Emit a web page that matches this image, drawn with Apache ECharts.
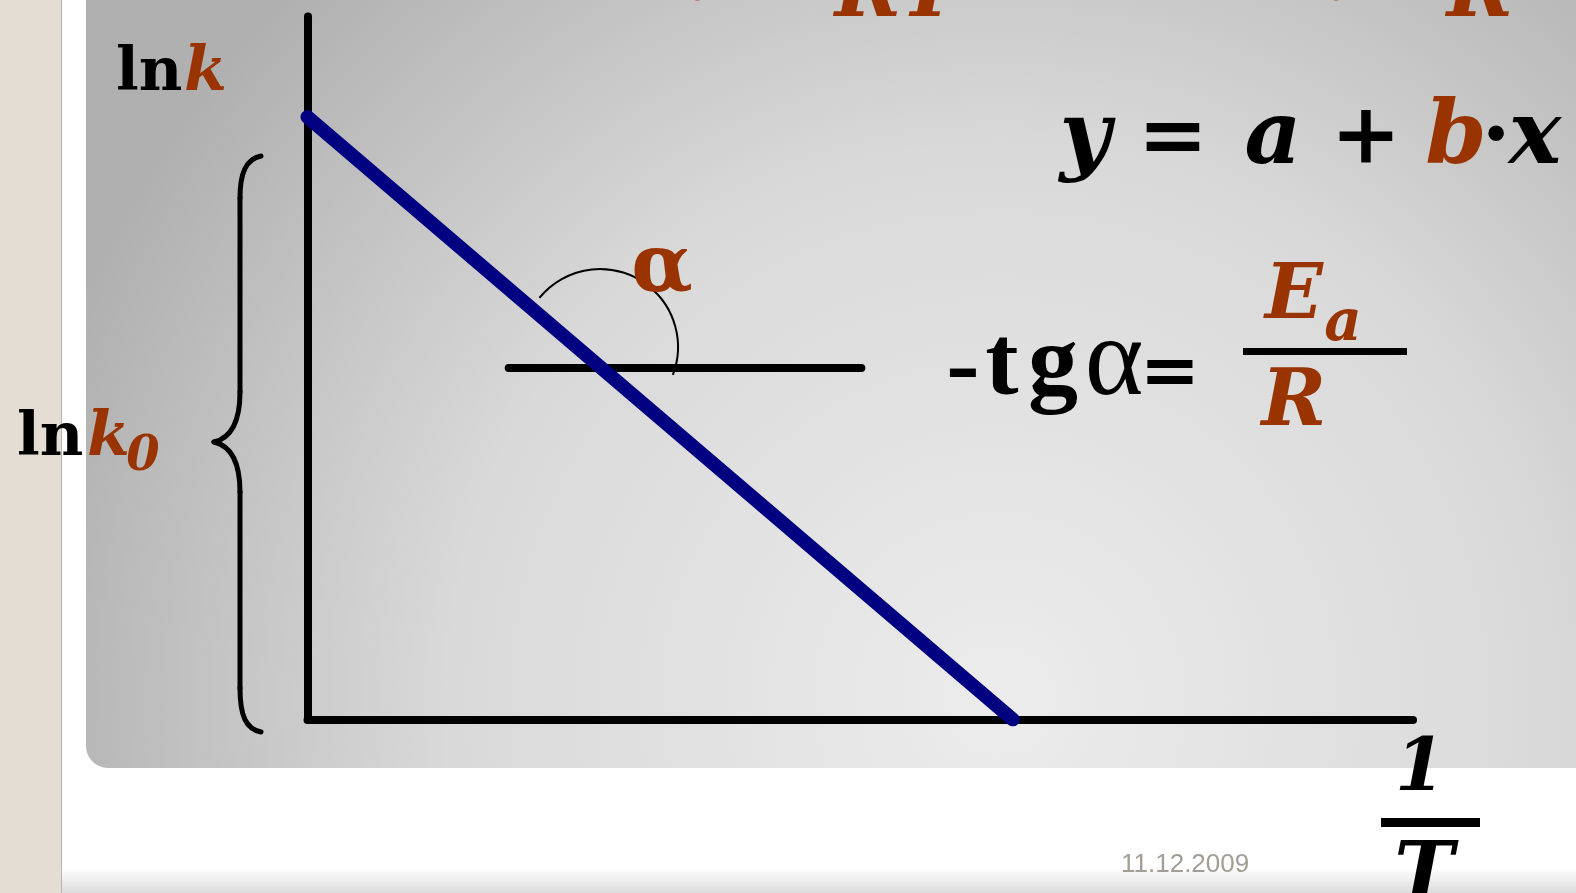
<!DOCTYPE html>
<html>
<head>
<meta charset="utf-8">
<script src="https://cdn.jsdelivr.net/npm/echarts@6/dist/echarts.min.js"></script>
<style>
  html, body { margin: 0; padding: 0; background: #fff; }
  #chart { width: 1576px; height: 893px; }
</style>
</head>
<body>
<div id="chart"></div>
<script>
// axis ranges (arbitrary units, 1/T and ln k)
const xRange = [0, 100];
const yRange = [0, 100];
// ln k = ln k0 - (Ea/R)(1/T)
const lnkLine = [[0, 85.7], [63.8, 0]];
// horizontal helper through the line, used to show angle alpha
const helperLine = [[18.2, 50], [50.1, 50]];

const BROWN = "#993300";
const SERIF = "'DejaVu Serif', 'Liberation Serif', serif";
const TIMES = "'Liberation Serif', serif";

// text helper: x = anchor, b = baseline
const txt = (str, x, b, size, opts) => {
  opts = opts || {};
  const fam = opts.family || SERIF;
  return {
    type: "text",
    x: x,
    y: b - size * 0.29,
    z: 100,
    style: {
      text: str,
      font: `${opts.italic ? "italic" : "normal"} ${opts.weight || "bold"} ${size}px ${fam}`,
      fill: opts.color || "#000",
      textAlign: opts.align || "left",
      textVerticalAlign: "middle",
    },
  };
};
const ctxt = (str, x, b, size, opts) => txt(str, x, b, size, Object.assign({ align: "center" }, opts || {}));

const stroke = { fill: null, stroke: "#000", lineWidth: 5, lineCap: "round" };
const bez = (x1, y1, c1x, c1y, c2x, c2y, x2, y2) => ({
  type: "bezierCurve", z: 50,
  shape: { x1, y1, cpx1: c1x, cpy1: c1y, cpx2: c2x, cpy2: c2y, x2, y2 },
  style: stroke,
});
const seg = (x1, y1, x2, y2) => ({
  type: "line", z: 50, shape: { x1, y1, x2, y2 }, style: stroke,
});

const bgGraphics = [
  // left beige strip of the slide viewer
  { type: "rect", z: -100, shape: { x: 0, y: 0, width: 61, height: 893 }, style: { fill: "#e4ddd3" } },
  { type: "rect", z: -100, shape: { x: 61, y: 0, width: 1, height: 893 }, style: { fill: "#b8b3ab" } },
  // bottom fade
  {
    type: "rect", z: -100,
    shape: { x: 62, y: 868, width: 1514, height: 25 },
    style: {
      fill: { type: "linear", x: 0, y: 0, x2: 0, y2: 1,
        colorStops: [{ offset: 0, color: "#ffffff" }, { offset: 1, color: "#dcdcdc" }] },
    },
  },
  // grey panel
  {
    type: "rect", z: -90,
    shape: { x: 86, y: -30, width: 1520, height: 798, r: [0, 0, 0, 22] },
    style: {
      fill: { type: "radial", x: 1000, y: 700, r: 1000, global: true,
        colorStops: [{ offset: 0, color: "#ececec" }, { offset: 0.55, color: "#d9d9d9" }, { offset: 1, color: "#b0b0b0" }] },
    },
  },
];

const decoGraphics = [
  // curly brace for ln k0
  bez(261, 156, 246, 159, 240, 173, 240, 198),
  seg(240, 198, 240, 392),
  bez(240, 392, 240, 422, 231, 438, 214, 442),
  bez(214, 442, 231, 446, 240, 462, 240, 492),
  seg(240, 492, 240, 688),
  bez(240, 688, 240, 716, 246, 729, 261, 732),
  // angle arc
  {
    type: "arc", z: 50,
    shape: { cx: 600, cy: 347, r: 78, startAngle: -141 * Math.PI / 180, endAngle: 21 * Math.PI / 180, clockwise: true },
    style: { fill: null, stroke: "#000", lineWidth: 2 },
  },
  // fraction bars
  { type: "rect", z: 50, shape: { x: 1243, y: 348, width: 164, height: 7 }, style: { fill: "#000" } },
  { type: "rect", z: 50, shape: { x: 1381, y: 818, width: 99, height: 9 }, style: { fill: "#000" } },
];

const textGraphics = [
  txt("ln", 116, 92, 60),
  txt("k", 184, 92, 62, { italic: true, color: BROWN }),
  txt("ln", 17, 457, 60),
  txt("k", 87, 457, 62, { italic: true, color: BROWN }),
  ctxt("0", 143, 471, 48, { italic: true, color: BROWN }),
  ctxt("α", 662, 293, 80, { color: BROWN }),
  // y = a + b·x
  ctxt("y", 1085, 166, 88, { italic: true }),
  ctxt("=", 1173, 166, 84),
  ctxt("a", 1273, 166, 88, { italic: true }),
  ctxt("+", 1366, 166, 84),
  ctxt("b", 1456, 166, 88, { italic: true, color: BROWN }),
  ctxt("·", 1496, 166, 84),
  ctxt("x", 1535, 166, 88, { italic: true }),
  // -tgα = Ea/R
  ctxt("-", 963, 399, 100, { family: TIMES }),
  ctxt("t", 1002, 397, 100, { family: TIMES }),
  ctxt("g", 1053, 397, 100, { family: TIMES }),
  ctxt("α", 1114, 397, 112, { weight: "normal", family: TIMES }),
  ctxt("=", 1170, 397, 72),
  ctxt("E", 1294, 320, 76, { italic: true, color: BROWN }),
  ctxt("a", 1343, 342, 58, { italic: true, color: BROWN }),
  ctxt("R", 1294, 427, 78, { italic: true, color: BROWN }),
  // clipped formula at the top
  ctxt("0", 701, 2, 50, { italic: true, color: BROWN }),
  ctxt("RT", 897, 18, 80, { italic: true, color: BROWN }),
  ctxt("0", 1340, 2, 50, { italic: true, color: BROWN }),
  ctxt("R", 1480, 18, 80, { italic: true, color: BROWN }),
  // 1/T
  ctxt("1", 1420, 792, 72, { italic: true }),
  ctxt("T", 1424, 901, 80, { italic: true }),
  // date
  txt("11.12.2009", 1121, 872, 26, { weight: "normal", family: "'Liberation Sans', Arial, sans-serif", color: "#a39e95" }),
];

const chart = echarts.init(document.getElementById("chart"));

const hiddenAxis = (range) => ({
  type: "value",
  min: range[0],
  max: range[1],
  axisLine: { show: true, onZero: false, lineStyle: { color: "#000", width: 8, cap: "round" } },
  axisTick: { show: false },
  axisLabel: { show: false },
  splitLine: { show: false },
});

const option = {
  backgroundColor: "#ffffff",
  animation: false,
  grid: { left: 307.5, top: 16.5, right: 163, bottom: 173.5 },
  xAxis: hiddenAxis(xRange),
  yAxis: hiddenAxis(yRange),
  graphic: { elements: bgGraphics.concat(decoGraphics, textGraphics) },
  series: [
    {
      type: "line",
      data: helperLine,
      symbol: "none",
      z: 3,
      lineStyle: { color: "#000", width: 8, cap: "round" },
    },
    {
      type: "line",
      data: lnkLine,
      symbol: "none",
      z: 4,
      lineStyle: { color: "#000080", width: 14, cap: "round" },
    },
  ],
};

chart.setOption(option);
</script>
</body>
</html>
